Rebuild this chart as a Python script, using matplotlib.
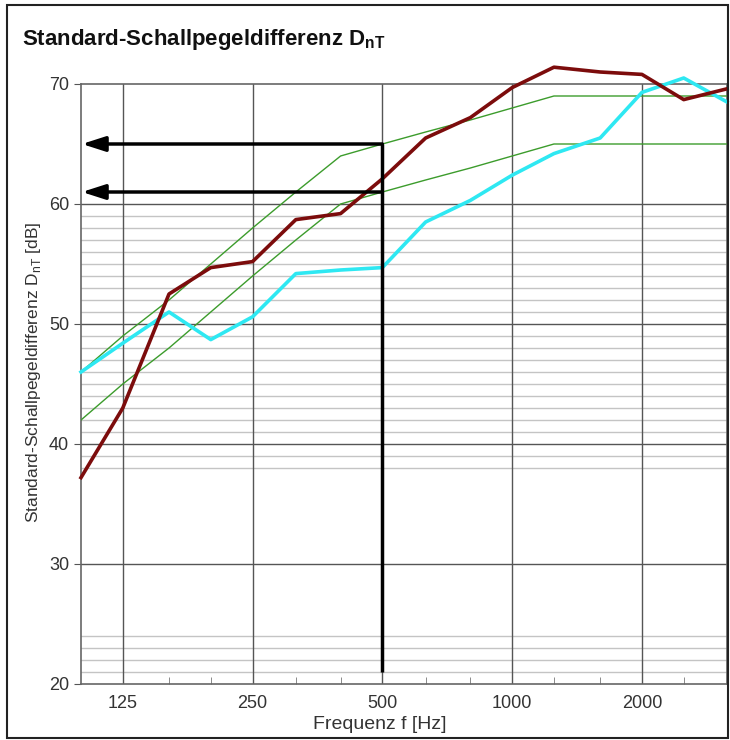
import matplotlib.pyplot as plt
from matplotlib.patches import Rectangle

plt.rcParams["font.family"] = ["Liberation Sans", "DejaVu Sans"]
plt.rcParams["mathtext.fontset"] = "custom"
plt.rcParams["mathtext.rm"] = "Liberation Sans"
plt.rcParams["mathtext.bf"] = "Liberation Sans:bold"

freqs = [100, 125, 160, 200, 250, 315, 400, 500, 630, 800, 1000, 1250, 1600, 2000, 2500, 3150]
dnt_brown = [37.2, 43.0, 52.5, 54.7, 55.2, 58.7, 59.2, 62.1, 65.5, 67.2, 69.7, 71.4, 71.0, 70.8, 68.7, 69.6]
dnt_cyan = [46.0, 48.4, 51.0, 48.7, 50.6, 54.2, 54.5, 54.7, 58.5, 60.3, 62.4, 64.2, 65.5, 69.3, 70.5, 68.5]
ref_upper = [46, 49, 52, 55, 58, 61, 64, 65, 66, 67, 68, 69, 69, 69, 69, 69]
ref_lower = [42, 45, 48, 51, 54, 57, 60, 61, 62, 63, 64, 65, 65, 65, 65, 65]
marked_values = [65, 61]

xticks = [125, 250, 500, 1000, 2000]
yticks = [20, 30, 40, 50, 60, 70]
minor_y = [21, 22, 23, 24, 38, 39] + list(range(41, 50)) + list(range(51, 60))
minor_x = [160, 200, 315, 400, 630, 800, 1250, 1600, 2500]

fig = plt.figure(figsize=(7.3, 7.4), dpi=100)
ax = fig.add_axes([81 / 730, 1 - 684 / 740, 646 / 730, 600 / 740])

ax.set_xscale("log")
ax.set_xlim(100, 3150)
ax.set_ylim(20, 70)

# grid
for y in minor_y:
    ax.axhline(y, color="#c4c4c4", lw=1.0, zorder=1)
for y in yticks[1:-1]:
    ax.axhline(y, color="#555555", lw=1.0, zorder=2)
for x in xticks:
    ax.axvline(x, color="#555555", lw=1.0, zorder=2)

ax.plot(freqs, ref_upper, color="#3c9c2c", lw=1.0, zorder=3)
ax.plot(freqs, ref_lower, color="#3c9c2c", lw=1.0, zorder=3)
ax.plot(freqs, dnt_cyan, color="#2ee8f2", lw=2.6, zorder=4, clip_on=False)
ax.plot(freqs, dnt_brown, color="#7c0c0c", lw=2.6, zorder=5, clip_on=False)

# reading lines at 500 Hz
ax.plot([500, 500], [21, marked_values[0]], color="black", lw=2.5, zorder=6,
        solid_capstyle="butt")
for v in marked_values:
    ax.annotate("", xy=(100.5, v), xytext=(500, v), zorder=6,
                arrowprops=dict(arrowstyle="-|>,head_length=1.4,head_width=0.45",
                                color="black", lw=2.5, shrinkA=0, shrinkB=0))

ax.set_xticks(xticks)
ax.set_xticklabels([str(x) for x in xticks])
ax.set_xticks(minor_x, minor=True)
ax.set_xticklabels([], minor=True)
ax.set_yticks(yticks)
ax.tick_params(axis="x", which="major", length=0, labelsize=13, pad=8, colors="#333333")
ax.tick_params(axis="x", which="minor", direction="in", length=5, color="#777777")
ax.tick_params(axis="y", which="major", direction="out", length=5, labelsize=13,
               colors="#333333", color="#555555")
for s in ax.spines.values():
    s.set_color("#666666")
    s.set_linewidth(1.2)

ax.set_xlabel("Frequenz f [Hz]", fontsize=14, color="#333333")
ax.xaxis.set_label_coords(0.463, -0.053)
ax.set_ylabel("Standard-Schallpegeldifferenz D$_{\\mathregular{nT}}$ [dB]", fontsize=12.5,
              color="#333333")
ax.yaxis.set_label_coords(-0.059, 0.52)

fig.text(22 / 730, 1 - 40 / 740, "Standard-Schallpegeldifferenz D$_{\\mathbf{nT}}$",
         fontsize=16, fontweight="bold", va="center", ha="left", color="#111111")

fig.patches.append(Rectangle((7 / 730, 2 / 740), 721 / 730, 733 / 740, transform=fig.transFigure,
                             fill=False, edgecolor="#222222", lw=1.5))

fig.savefig("out.png", dpi=100)
